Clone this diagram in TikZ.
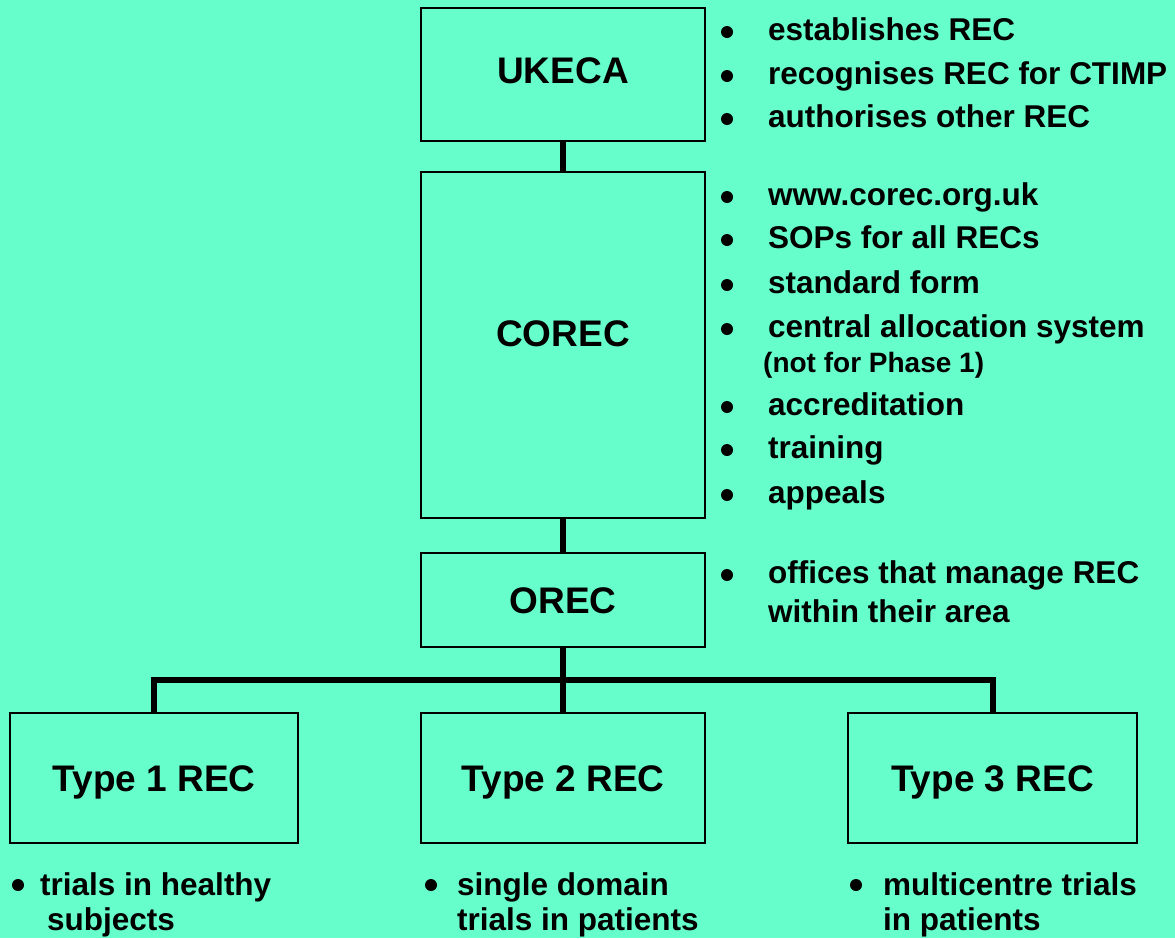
\documentclass[tikz,border=0pt]{standalone}
\usepackage{fontspec}
\setmainfont{Liberation Sans}
\definecolor{bg}{HTML}{66FFCC}
\begin{document}
\begin{tikzpicture}[x=1pt,y=-1pt,
  box/.style={draw, line width=2.5pt, inner sep=0pt, minimum width=284pt, text height=26.5pt,
    font=\fontsize{37}{40}\selectfont\bfseries},
  conn/.style={line width=6pt, line join=miter},
  item/.style={anchor=base west, inner sep=0pt, align=left,
    font=\fontsize{31.5}{44}\selectfont\bfseries},
  small/.style={anchor=base west, inner sep=0pt, font=\fontsize{28}{30}\selectfont\bfseries},
  dot/.style={circle, fill, inner sep=0pt, minimum size=12pt}]
\fill[bg] (0,0) rectangle (1175,938);
\useasboundingbox (0,0) rectangle (1175,938);
% boxes
\node[box, minimum height=133pt, text depth=9.5pt] (ukeca) at (563,74.5) {UKECA};
\node[box, minimum height=346pt, text depth=24.5pt] (corec) at (563,345) {COREC};
\node[box, minimum height=94pt, text depth=0pt] (orec) at (563,600) {OREC};
\node[box, minimum width=288pt, minimum height=130pt, text depth=0pt] (t1) at (154,778) {Type 1 REC};
\node[box, minimum height=130pt, text depth=0pt] (t2) at (563,778) {Type 2 REC};
\node[box, minimum width=289pt, minimum height=130pt, text depth=0pt] (t3) at (992.5,778) {Type 3 REC};
% connectors
\coordinate (bar) at (563,680);
\draw[conn] (ukeca.south) -- (corec.north);
\draw[conn] (corec.south) -- (orec.north);
\draw[conn] (orec.south) -- (t2.north);
\draw[conn] (t1.north) -- (t1.north |- bar) -- (t3.north |- bar) -- (t3.north);
% UKECA bullets
\node[dot] (d1) at (727,32) {};
\node[item] (u1) at (768,40) {establishes REC};
\node[dot] (d2) at (727,76) {};
\node[item] (u2) at (768,84) {recognises REC for CTIMP};
\node[dot] (d3) at (727,119) {};
\node[item] (u3) at (768,127) {authorises other REC};
% COREC bullets
\node[dot] (d4) at (727,197) {};
\node[item] (c1) at (768,205) {www.corec.org.uk};
\node[dot] (d5) at (727,240) {};
\node[item] (c2) at (768,248) {SOPs for all RECs};
\node[dot] (d6) at (727,285) {};
\node[item] (c3) at (768,293) {standard form};
\node[dot] (d7) at (727,329) {};
\node[item] (c4) at (768,337) {central allocation system};
\node[small] (c4b) at (763,372) {(not for Phase 1)};
\node[dot] (d8) at (727,407) {};
\node[item] (c5) at (768,415) {accreditation};
\node[dot] (d9) at (727,450) {};
\node[item] (c6) at (768,458) {training};
\node[dot] (d10) at (727,495) {};
\node[item] (c7) at (768,503) {appeals};
% OREC bullet (multi-line nodes: base = last line)
\node[dot] (d11) at (727,575) {};
\node[item, font=\fontsize{31.5}{39}\selectfont\bfseries] (o1) at (768,622) {offices that manage REC\\within their area};
% bottom bullets
\node[dot] (d12) at (18,885) {};
\node[item, font=\fontsize{31.5}{35}\selectfont\bfseries] (b1) at (40,930) {trials in healthy\\\hspace*{7pt}subjects};
\node[dot] (d13) at (431,885) {};
\node[item, font=\fontsize{31.5}{35}\selectfont\bfseries] (b2) at (457,930) {single domain\\trials in patients};
\node[dot] (d14) at (856,885) {};
\node[item, font=\fontsize{31.5}{35}\selectfont\bfseries] (b3) at (883,930) {multicentre trials\\in patients};
\end{tikzpicture}
\end{document}
